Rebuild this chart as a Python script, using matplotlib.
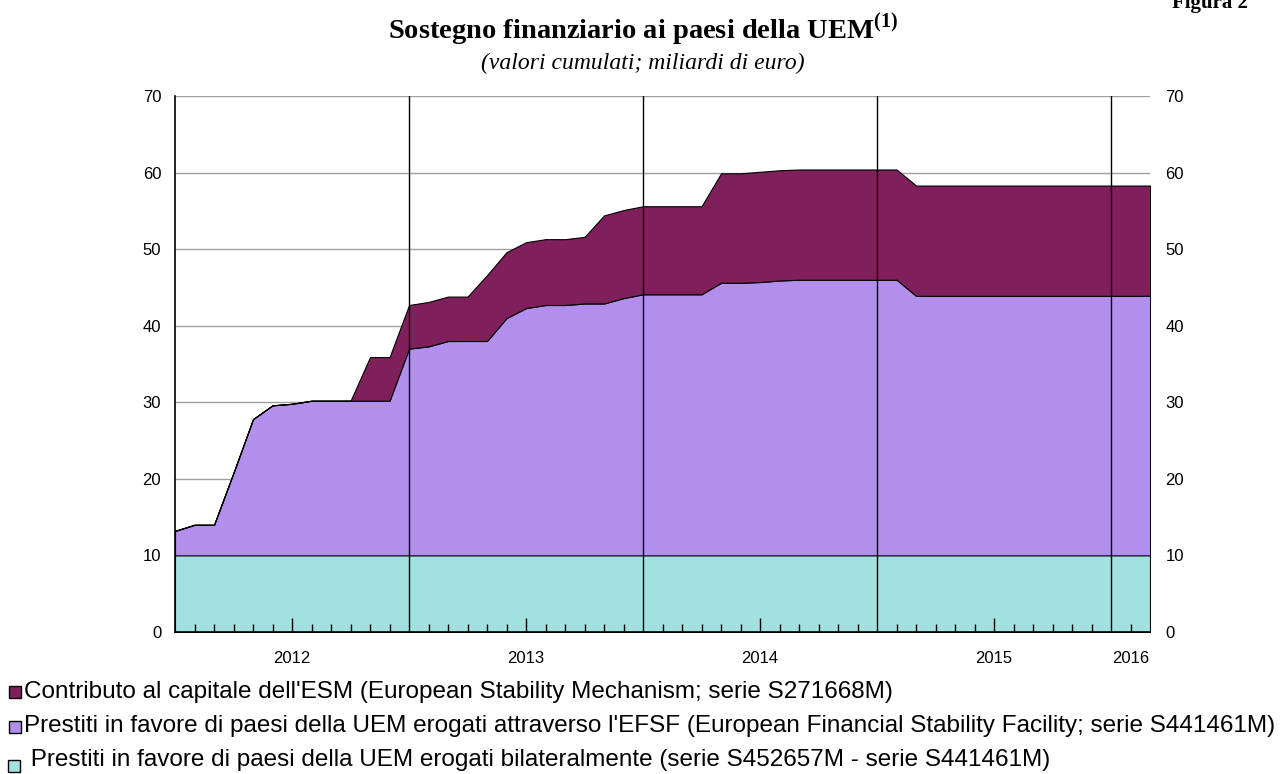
import numpy as np
import matplotlib
matplotlib.use('Agg')
import matplotlib.pyplot as plt
from matplotlib.patches import Rectangle
import matplotlib.transforms as mtransforms

plt.rcParams['font.family'] = ['Liberation Sans', 'DejaVu Sans']
plt.rcParams['mathtext.fontset'] = 'custom'
plt.rcParams['mathtext.rm'] = 'Liberation Serif'
plt.rcParams['mathtext.bf'] = 'Liberation Serif:bold'

# dati mensili, gen 2012 - mar 2016 (miliardi di euro)
mesi = np.arange(51)
bilaterali = [10.0, 10.0, 10.0, 10.0, 10.0, 10.0, 10.0, 10.0, 10.0, 10.0, 10.0, 10.0,
              10.0, 10.0, 10.0, 10.0, 10.0, 10.0, 10.0, 10.0, 10.0, 10.0, 10.0, 10.0,
              10.0, 10.0, 10.0, 10.0, 10.0, 10.0, 10.0, 10.0, 10.0, 10.0, 10.0, 10.0,
              10.0, 10.0, 10.0, 10.0, 10.0, 10.0, 10.0, 10.0, 10.0, 10.0, 10.0, 10.0,
              10.0, 10.0, 10.0]
efsf = [3.2, 4.0, 4.0, 10.8, 17.8, 19.6, 19.8, 20.2, 20.2, 20.2, 20.2, 20.2,
        27.0, 27.3, 28.0, 28.0, 28.0, 31.0, 32.3, 32.7, 32.7, 32.9, 32.9, 33.6,
        34.1, 34.1, 34.1, 34.1, 35.6, 35.6, 35.7, 35.9, 36.0, 36.0, 36.0, 36.0,
        36.0, 36.0, 33.9, 33.9, 33.9, 33.9, 33.9, 33.9, 33.9, 33.9, 33.9, 33.9,
        33.9, 33.9, 33.9]
esm = [0.0, 0.0, 0.0, 0.0, 0.0, 0.0, 0.0, 0.0, 0.0, 0.0, 5.7, 5.7,
       5.7, 5.8, 5.8, 5.8, 8.6, 8.6, 8.6, 8.6, 8.6, 8.7, 11.5, 11.5,
       11.5, 11.5, 11.5, 11.5, 14.3, 14.3, 14.4, 14.4, 14.4, 14.4, 14.4, 14.4,
       14.4, 14.4, 14.4, 14.4, 14.4, 14.4, 14.4, 14.4, 14.4, 14.4, 14.4, 14.4,
       14.4, 14.4, 14.4]

anni = ['2012', '2013', '2014', '2015', '2016']
pos_anni = [6, 18, 30, 42, 49]
inizio_anni = [12, 24, 36, 48]

col_esm = '#7F1F5C'
col_efsf = '#B28FEC'
col_bil = '#A3E0E0'

etichette = [
    "Contributo al capitale dell'ESM (European Stability Mechanism; serie S271668M)",
    "Prestiti in favore di paesi della UEM erogati attraverso l'EFSF (European Financial Stability Facility; serie S441461M)",
    " Prestiti in favore di paesi della UEM erogati bilateralmente (serie S452657M - serie S441461M)",
]

fig = plt.figure(figsize=(12.85, 7.74), dpi=100)
ax = fig.add_axes([0.1362, 0.1835, 0.7588, 0.6925])
ax.set_axisbelow(False)

# griglia orizzontale
for v in range(10, 80, 10):
    ax.axhline(v, color='#A0A0A0', lw=1, zorder=0)

ax.stackplot(mesi, bilaterali, efsf, esm, colors=[col_bil, col_efsf, col_esm],
             edgecolor='black', linewidth=0.8, zorder=1)

for xv in inizio_anni:
    ax.axvline(xv, color='black', lw=1, zorder=3)

ax.set_xlim(0, 50)
ax.set_ylim(0, 70)

ax.spines['top'].set_visible(False)
ax.spines['right'].set_visible(False)
ax.spines['left'].set_linewidth(1.2)
ax.spines['bottom'].set_linewidth(1.2)

# tacche mensili
minori = [m for m in range(1, 50) if m % 12 != 0 and m % 12 != 6]
ax.set_xticks(minori, minor=True)
ax.set_xticks([6, 18, 30, 42])
ax.set_xticklabels([])
ax.tick_params(axis='x', which='minor', direction='in', length=6, width=1, color='black')
ax.tick_params(axis='x', which='major', direction='in', length=10, width=1, color='black')

ax.set_yticks(range(0, 80, 10))
ax.tick_params(axis='y', length=0, pad=10, labelsize=12)

ax2 = ax.twinx()
ax2.set_ylim(0, 70)
ax2.set_yticks(range(0, 80, 10))
ax2.tick_params(axis='y', length=0, pad=11, labelsize=12)
for s in ax2.spines.values():
    s.set_visible(False)

trans = mtransforms.blended_transform_factory(ax.transData, ax.transAxes)
for lab, p in zip(anni, pos_anni):
    ax.text(p, -0.05, lab, transform=trans, ha='center', va='center', fontsize=12)

# titoli
fig.text(0.5, 1 - 39 / 774, 'Sostegno finanziario ai paesi della UEM$^{\\mathbf{(1)}}$',
         ha='center', va='baseline', fontsize=20.5, fontweight='bold',
         family='Liberation Serif')
fig.text(0.5, 1 - 69 / 774, '(valori cumulati; miliardi di euro)', ha='center',
         va='baseline', fontsize=17, style='italic', family='Liberation Serif')
fig.text(1248 / 1285, 1 - 8 / 774, 'Figura 2', ha='right', va='baseline', fontsize=15,
         fontweight='bold', family='Liberation Serif')

# legenda
leg_y = [692, 726, 760]
box_y = [692, 727, 766]
box_x = [9, 9, 8]
for lab, col, ty, by, bx in zip(etichette, [col_esm, col_efsf, col_bil], leg_y, box_y, box_x):
    fig.patches.append(Rectangle((bx / 1285, 1 - (by + 6) / 774), 12 / 1285, 12 / 774,
                                 transform=fig.transFigure, facecolor=col,
                                 edgecolor='black', linewidth=1))
    fig.text(24 / 1285, 1 - ty / 774, lab, ha='left', va='center', fontsize=17.5)

fig.savefig('out.png', dpi=100)
